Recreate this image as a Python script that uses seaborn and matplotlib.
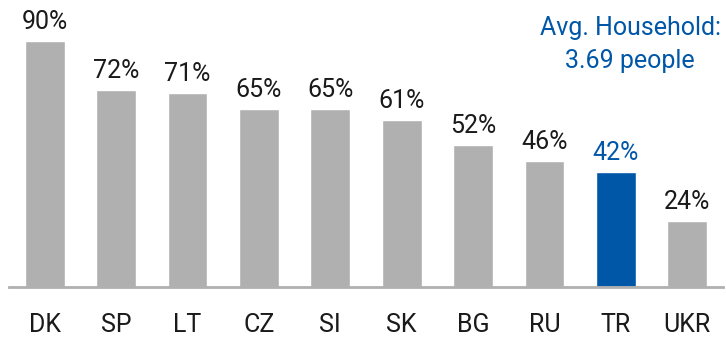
import matplotlib
matplotlib.use("Agg")
import matplotlib.pyplot as plt
import seaborn as sns
import pandas as pd

countries = ["DK", "SP", "LT", "CZ", "SI", "SK", "BG", "RU", "TR", "UKR"]
shares = [90, 72, 71, 65, 65, 61, 52, 46, 42, 24]
highlight = "TR"
note_lines = ["Avg. Household:", "3.69 people"]

GRAY = "#b0b0b0"
BLUE = "#0057a8"
TEXT = "#1a1a1a"
FS = 18

sns.set_theme(style="white")
plt.rcParams["font.family"] = ["Roboto", "DejaVu Sans"]

df = pd.DataFrame({"country": countries, "share": shares})
colors = [BLUE if c == highlight else GRAY for c in countries]

fig = plt.figure(figsize=(7.26, 3.40), dpi=100)
ax = fig.add_axes([9 / 726, 53 / 340, 714 / 726, 273.3 / 340])

sns.barplot(data=df, x="country", y="share", hue="country", palette=colors,
            legend=False, width=0.56, ax=ax, saturation=1)

ax.set_xlim(-0.5, 9.5)
ax.set_ylim(0, 100)
ax.set_xlabel("")
ax.set_ylabel("")
ax.set_yticks([])
for side in ["top", "right", "left"]:
    ax.spines[side].set_visible(False)
ax.spines["bottom"].set_color(GRAY)
ax.spines["bottom"].set_linewidth(2)

ax.tick_params(axis="x", length=0, pad=19, labelsize=FS, labelcolor=TEXT)

for container, c in zip(ax.containers, countries):
    ax.bar_label(container, fmt="%d%%", padding=5, fontsize=FS,
                 color=BLUE if c == highlight else TEXT)

fig.text(630 / 726, 1 - 28 / 340, note_lines[0], ha="center", va="center",
         fontsize=FS, color=BLUE)
fig.text(630 / 726, 1 - 61 / 340, note_lines[1], ha="center", va="center",
         fontsize=FS, color=BLUE)

fig.savefig("out.png", dpi=100)
